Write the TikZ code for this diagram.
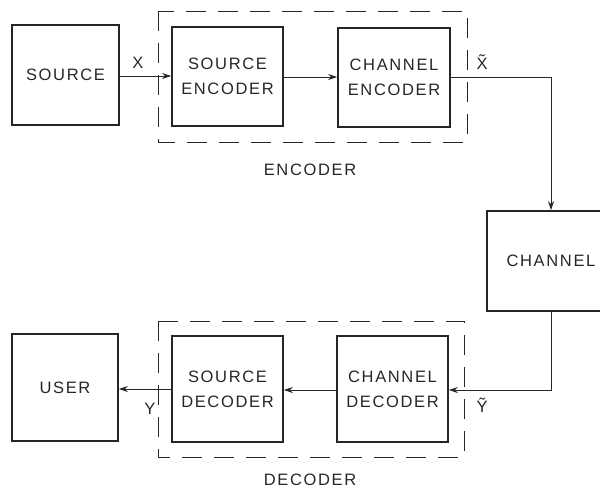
\documentclass[tikz,border=0pt]{standalone}
\usepackage{fontspec}
\setmainfont[LetterSpace=10]{Liberation Sans}
\usetikzlibrary{arrows.meta}
\definecolor{ink}{HTML}{262626}
\tikzset{
  blk/.style={draw=ink, line width=1.6pt, rectangle, minimum width=#1, inner sep=0pt, align=center, text=ink, font=\fontsize{16.5}{25}\selectfont},
  grp/.style={draw=ink, line width=1pt, dash pattern=on 20pt off 12pt},
  conn/.style={draw=ink, line width=0.8pt, -{Stealth[length=9pt,width=6pt]}},
  lbl/.style={text=ink, font=\fontsize{16.5}{18}\selectfont, inner sep=0pt},
}
\begin{document}
\begin{tikzpicture}[x=1pt,y=-1pt]
\useasboundingbox (0,0) rectangle (600,491);
\clip (0,0) rectangle (600,491);
% encoder group
\draw[grp] (158,11) rectangle (467,142);
\node[lbl] (enclbl) at (310,170) {ENCODER};
% decoder group
\draw[grp] (158,321) rectangle (464,457);
\node[lbl] (declbl) at (310,480) {DECODER};
% blocks
\node[blk=107pt, minimum height=100pt] (source) at (65.5,75) {SOURCE};
\node[blk=111pt, minimum height=99pt] (srcenc) at (227.5,76.5) {SOURCE\\ENCODER};
\node[blk=112pt, minimum height=99pt] (chenc) at (394,77.5) {CHANNEL\\ENCODER};
\node[blk=128pt, minimum height=100pt] (channel) at (551,261) {CHANNEL};
\node[blk=111pt, minimum height=106pt] (chdec) at (392.5,389) {CHANNEL\\DECODER};
\node[blk=111pt, minimum height=106pt] (srcdec) at (227.5,389) {SOURCE\\DECODER};
\node[blk=106pt, minimum height=107pt] (user) at (65,387.5) {USER};
% connectors
\draw[conn] (source.east |- 0,76) -- (srcenc.west |- 0,76);
\draw[conn] (srcenc.east |- 0,77) -- (chenc.west |- 0,77);
\draw[conn] (chenc.east |- 0,77) -| (channel.north);
\draw[conn] (channel.south) |- (chdec.east |- 0,390);
\draw[conn] (chdec.west |- 0,390) -- (srcdec.east |- 0,390);
\draw[conn] (srcdec.west |- 0,389) -- (user.east |- 0,389);
% signal labels
\node[lbl] (x) at (138,63) {X};
\node[lbl] (xt) at (482,62) {\~{X}};
\node[lbl] (y) at (150,409) {Y};
\node[lbl] (yt) at (482,405) {\~{Y}};
\end{tikzpicture}
\end{document}
